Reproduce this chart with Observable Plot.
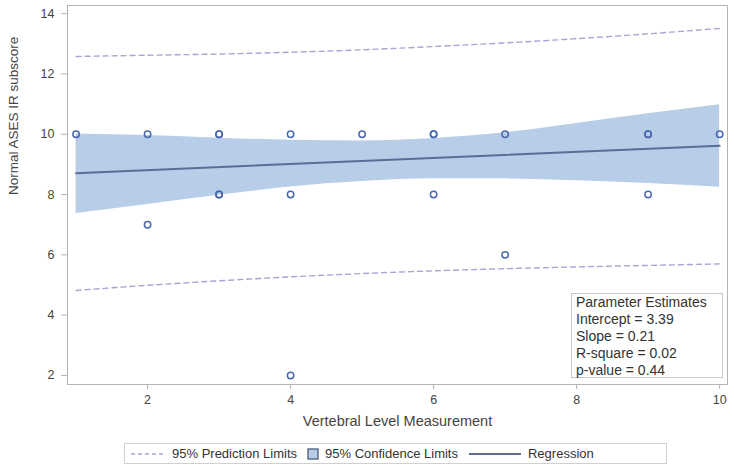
<!DOCTYPE html>
<html>
<head>
<meta charset="utf-8">
<script src="https://cdn.jsdelivr.net/npm/d3@7"></script>
<script src="https://cdn.jsdelivr.net/npm/@observablehq/plot@0.6"></script>
<style>
  html, body { margin: 0; padding: 0; background: #fff; }
  body { width: 734px; height: 475px; overflow: hidden; font-family: "Liberation Sans", Arial, sans-serif; color: #444; }
  #wrap { position: relative; width: 734px; height: 436px; }
  #params { position: absolute; left: 571px; top: 293px; width: 152px; height: 85px; border: 1px solid #c8c8c8; background: #fff; font-size: 14px; line-height: 17px; padding: 0 0 0 4px; box-sizing: border-box; color: #333; }
  #legend { position: absolute; left: 124px; top: 443px; width: 543px; height: 21px; border: 1px solid #d0d0d0; box-sizing: border-box; font-size: 13px; color: #333; display: flex; align-items: center; padding-left: 5px; }
  #legend .item { display: flex; align-items: center; margin-right: 10px; }
  #legend svg { margin-right: 6px; }
</style>
</head>
<body>
<div id="wrap"></div>
<div id="legend"></div>
<script>
// Observed points (x = vertebral level, y = ASES IR subscore); duplicates overlap
const ptX = [1, 2, 2, 3, 3, 3, 3, 4, 4, 4, 5, 6, 6, 6, 7, 7, 9, 9, 9, 10];
const ptY = [10, 10, 7, 10, 10, 8, 8, 10, 8, 2, 10, 10, 10, 8, 10, 6, 10, 10, 8, 10];

// Regression line (fitted values at the ends)
const regX = [1, 10];
const regY = [8.71, 9.62];

// 95% confidence band
const ciX  = [1, 2, 3, 4, 5, 6, 7, 8, 9, 10];
const ciLo = [7.37, 7.67, 7.98, 8.25, 8.43, 8.52, 8.52, 8.46, 8.37, 8.24];
const ciHi = [10.01, 9.96, 9.87, 9.80, 9.78, 9.86, 10.05, 10.36, 10.68, 10.98];

// 95% prediction limits
const piX  = [1, 2, 3, 4, 5, 6, 7, 8, 9, 10];
const piLo = [4.82, 4.99, 5.14, 5.27, 5.38, 5.47, 5.54, 5.60, 5.65, 5.70];
const piHi = [12.58, 12.62, 12.66, 12.72, 12.80, 12.91, 13.03, 13.17, 13.33, 13.51];

const xTicks = [2, 4, 6, 8, 10];
const yTicks = [2, 4, 6, 8, 10, 12, 14];

const points = ptX.map((x, i) => ({x, y: ptY[i]}));
const reg = regX.map((x, i) => ({x, y: regY[i]}));
const ci = ciX.map((x, i) => ({x, lo: ciLo[i], hi: ciHi[i]}));
const pi = piX.map((x, i) => ({x, lo: piLo[i], hi: piHi[i]}));

const bandColor = "#b8cde7";
const regColor = "#5b6d96";
const predColor = "#a6a6d6";
const dotColor = "#4a68ad";

const chart = Plot.plot({
  width: 734,
  height: 436,
  marginLeft: 67,
  marginRight: 7,
  marginTop: 5,
  marginBottom: 52,
  style: {fontFamily: "Liberation Sans, Arial, sans-serif", fontSize: "12.5px", color: "#444", background: "#fff"},
  x: {domain: [0.88, 10.11]},
  y: {domain: [1.7, 14.27]},
  marks: [
    Plot.areaY(ci, {x: "x", y1: "lo", y2: "hi", fill: bandColor, fillOpacity: 1, curve: "monotone-x"}),
    Plot.line(pi, {x: "x", y: "hi", stroke: predColor, strokeWidth: 1.4, strokeDasharray: "5,4", curve: "monotone-x"}),
    Plot.line(pi, {x: "x", y: "lo", stroke: predColor, strokeWidth: 1.4, strokeDasharray: "5,4", curve: "monotone-x"}),
    Plot.line(reg, {x: "x", y: "y", stroke: regColor, strokeWidth: 2}),
    Plot.dot(points, {x: "x", y: "y", r: 3.2, stroke: dotColor, strokeWidth: 1.5, fill: "none"}),
    Plot.frame({stroke: "#b4b4b4", strokeWidth: 1}),
    Plot.axisX({ticks: xTicks, tickSize: 5, tickPadding: 6, label: null, stroke: "#b4b4b4", fill: "#444"}),
    Plot.axisY({ticks: yTicks, tickSize: 6, tickPadding: 7, label: null, stroke: "#b4b4b4", fill: "#444"}),
    Plot.text(["Vertebral Level Measurement"], {frameAnchor: "bottom", dy: 41, fontSize: 14.5, fill: "#444"}),
    Plot.text(["Normal ASES IR subscore"], {frameAnchor: "left", dx: -54, rotate: -90, fontSize: 13.5, fill: "#444"})
  ]
});
document.getElementById("wrap").appendChild(chart);

// Parameter estimates inset
const paramLines = ["Parameter Estimates", "Intercept = 3.39", "Slope = 0.21", "R-square = 0.02", "p-value = 0.44"];
const pbox = document.createElement("div");
pbox.id = "params";
pbox.innerHTML = paramLines.map(t => `<div>${t}</div>`).join("");
document.getElementById("wrap").appendChild(pbox);

// Legend
const legendItems = [
  {label: "95% Prediction Limits", kind: "dash"},
  {label: "95% Confidence Limits", kind: "box"},
  {label: "Regression", kind: "line"}
];
const legend = document.getElementById("legend");
legendItems.forEach(it => {
  const d = document.createElement("div");
  d.className = "item";
  let sw = "";
  if (it.kind === "dash") sw = `<svg width="36" height="10"><line x1="1" y1="5" x2="35" y2="5" stroke="${predColor}" stroke-width="1.4" stroke-dasharray="4,3"/></svg>`;
  if (it.kind === "box") sw = `<svg width="12" height="12"><rect x="1" y="1" width="10" height="10" fill="${bandColor}" stroke="#4a5a80" stroke-width="1.3"/></svg>`;
  if (it.kind === "line") sw = `<svg width="54" height="10"><line x1="1" y1="5" x2="53" y2="5" stroke="${regColor}" stroke-width="2"/></svg>`;
  d.innerHTML = sw + `<span>${it.label}</span>`;
  legend.appendChild(d);
});
</script>
</body>
</html>
